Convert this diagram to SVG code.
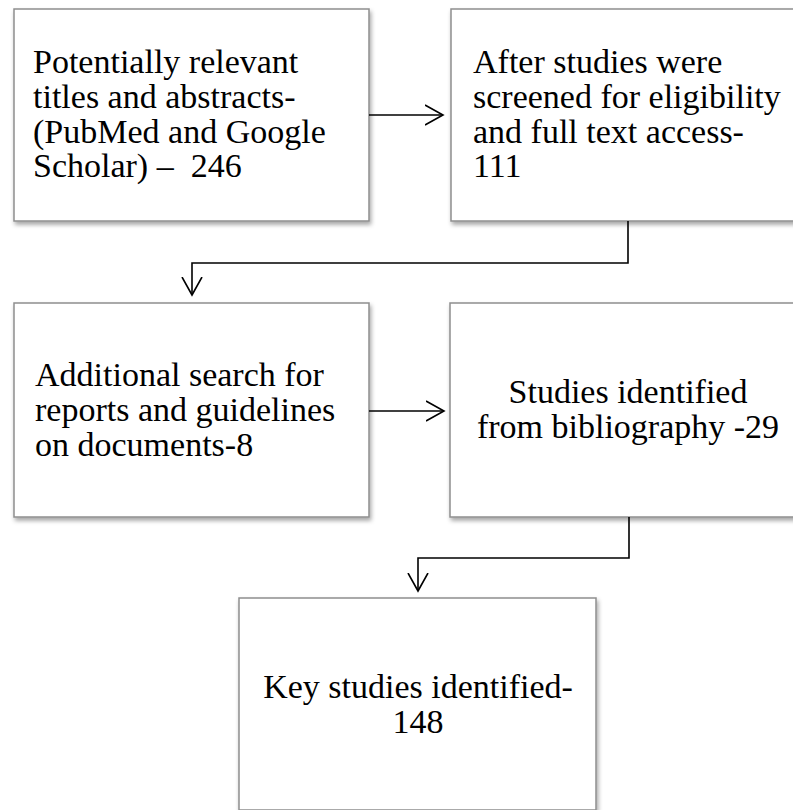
<svg xmlns="http://www.w3.org/2000/svg" width="793" height="810" viewBox="0 0 793 810">
  <defs>
    <filter id="shadow" x="-10%" y="-10%" width="125%" height="125%">
      <feDropShadow dx="1.5" dy="3" stdDeviation="2" flood-color="#000" flood-opacity="0.35"/>
    </filter>
    <marker id="arrow" viewBox="0 0 20 22" refX="18" refY="11" markerWidth="20" markerHeight="22" markerUnits="userSpaceOnUse" orient="auto">
      <path d="M0,1 L18,11 L0,21" fill="none" stroke="#000" stroke-width="1.6"/>
    </marker>
    <style>
      .box { fill: #ffffff; stroke: #8e8e8e; stroke-width: 1.5; filter: url(#shadow); }
      .lbl { font-family: 'Liberation Serif', 'Times New Roman', serif; font-size: 34px; fill: #000; }
      .mid { text-anchor: middle; }
      .conn { fill: none; stroke: #000; stroke-width: 1.6; marker-end: url(#arrow); }
    </style>
  </defs>
  <rect width="793" height="810" fill="#ffffff"/>

  <g id="node-potentially-relevant">
    <rect class="box" x="14" y="9" width="355" height="212"/>
    <text class="lbl" x="33" y="73">Potentially relevant</text>
    <text class="lbl" x="33" y="108">titles and abstracts-</text>
    <text class="lbl" x="33" y="143">(PubMed and Google</text>
    <text class="lbl" x="33" y="177" xml:space="preserve">Scholar) –  246</text>
  </g>

  <g id="node-screened">
    <rect class="box" x="451" y="9" width="356" height="212"/>
    <text class="lbl" x="473" y="73">After studies were</text>
    <text class="lbl" x="473" y="108">screened for eligibility</text>
    <text class="lbl" x="473" y="143">and full text access-</text>
    <text class="lbl" x="473" y="177">111</text>
  </g>

  <g id="node-additional-search">
    <rect class="box" x="14" y="303" width="355" height="214"/>
    <text class="lbl" x="35" y="386">Additional search for</text>
    <text class="lbl" x="35" y="421">reports and guidelines</text>
    <text class="lbl" x="35" y="456">on documents-8</text>
  </g>

  <g id="node-bibliography">
    <rect class="box" x="450" y="303" width="356" height="214"/>
    <text class="lbl mid" x="628" y="403">Studies identified</text>
    <text class="lbl mid" x="628" y="438">from bibliography -29</text>
  </g>

  <g id="node-key-studies">
    <rect class="box" x="239" y="598" width="357" height="212"/>
    <text class="lbl mid" x="418" y="698">Key studies identified-</text>
    <text class="lbl mid" x="418" y="733">148</text>
  </g>

  <g id="connectors">
    <path class="conn" d="M369,115 L443,115"/>
    <path class="conn" d="M628,221 L628,263 L192,263 L192,295"/>
    <path class="conn" d="M369,411 L444,411"/>
    <path class="conn" d="M629,517 L629,558 L418,558 L418,591"/>
  </g>
</svg>
